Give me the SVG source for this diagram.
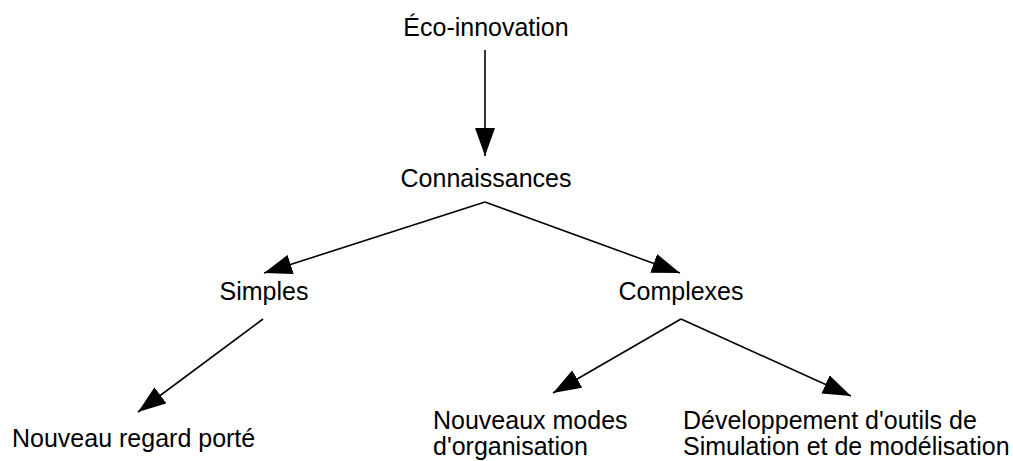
<svg xmlns="http://www.w3.org/2000/svg" width="1013" height="461" viewBox="0 0 1013 461">
<style>
text{font-family:"Liberation Sans",Arial,sans-serif;font-size:25px;fill:#000}
.c{text-anchor:middle}
.e{stroke:#000;stroke-width:1.6;fill:none;marker-end:url(#ah)}
</style>
<defs>
<marker id="ah" markerUnits="userSpaceOnUse" markerWidth="28" markerHeight="20" refX="28" refY="10" orient="auto" viewBox="0 0 28 20">
<path d="M0,0 L28,10 L0,20 z" fill="#000"/>
</marker>
</defs>
<rect width="1013" height="461" fill="#fff"/>
<g id="connectors">
<line class="e" x1="485" y1="50" x2="485" y2="156"/>
<line class="e" x1="485" y1="202" x2="264" y2="273"/>
<line class="e" x1="485" y1="202" x2="680" y2="273"/>
<line class="e" x1="263" y1="319" x2="138" y2="412"/>
<line class="e" x1="681" y1="319" x2="553" y2="393"/>
<line class="e" x1="681" y1="319" x2="851" y2="396"/>
</g>
<g id="eco"><text class="c" x="486" y="36">Éco-innovation</text></g>
<g id="connaissances"><text class="c" x="486" y="187">Connaissances</text></g>
<g id="simples"><text class="c" x="264" y="300">Simples</text></g>
<g id="complexes"><text class="c" x="681" y="300">Complexes</text></g>
<g id="regard"><text x="12" y="447">Nouveau regard porté</text></g>
<g id="modes"><text x="433" y="429">Nouveaux modes</text><text x="433" y="455">d'organisation</text></g>
<g id="outils"><text x="683" y="429">Développement d'outils de</text><text x="683" y="455">Simulation et de modélisation</text></g>
</svg>
